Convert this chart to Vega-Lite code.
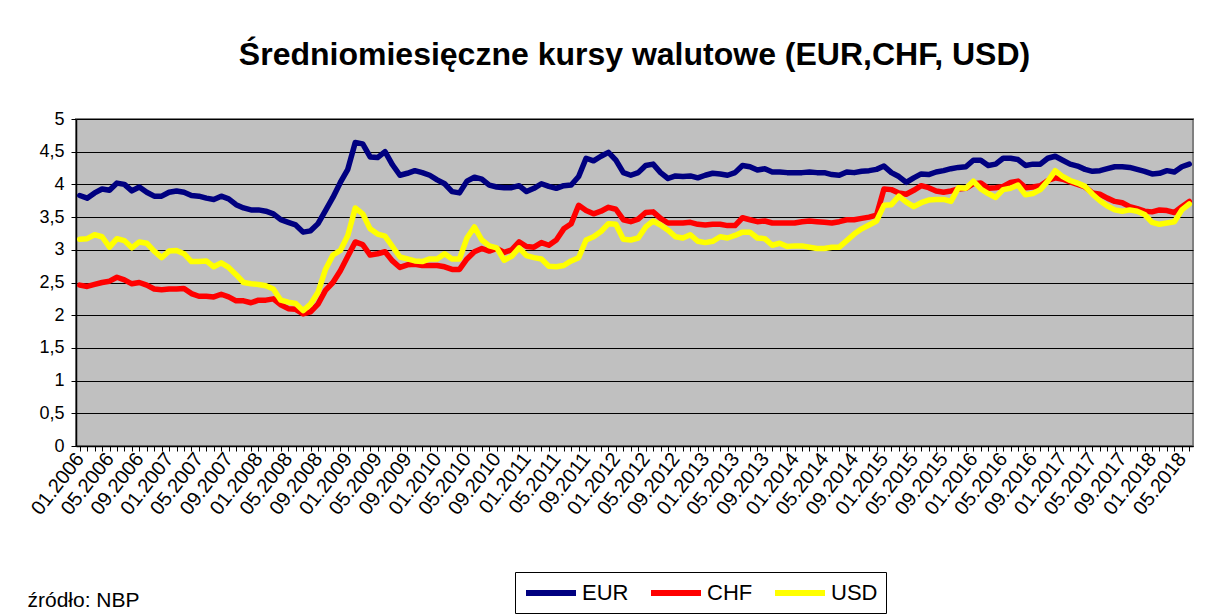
{
  "$schema": "https://vega.github.io/schema/vega-lite/v6.json",
  "width": 1117,
  "height": 327,
  "autosize": {"type": "none"},
  "padding": {"left": 76, "top": 119, "right": 16, "bottom": 168},
  "background": "white",
  "title": {
    "text": "Średniomiesięczne kursy walutowe (EUR,CHF, USD)",
    "font": "Liberation Sans",
    "fontSize": 32,
    "fontWeight": "bold",
    "color": "black",
    "anchor": "middle",
    "offset": 38
  },
  "config": {
    "view": {"fill": "#C0C0C0", "stroke": "#808080", "strokeWidth": 2},
    "font": "Liberation Sans"
  },
  "data": {
    "values": [
      {"m":"2006-01","EUR":3.83,"CHF":2.46,"USD":3.16},
      {"m":"2006-02","EUR":3.79,"CHF":2.44,"USD":3.17},
      {"m":"2006-03","EUR":3.87,"CHF":2.47,"USD":3.23},
      {"m":"2006-04","EUR":3.93,"CHF":2.50,"USD":3.20},
      {"m":"2006-05","EUR":3.91,"CHF":2.52,"USD":3.04},
      {"m":"2006-06","EUR":4.02,"CHF":2.58,"USD":3.17},
      {"m":"2006-07","EUR":4.00,"CHF":2.54,"USD":3.14},
      {"m":"2006-08","EUR":3.90,"CHF":2.48,"USD":3.03},
      {"m":"2006-09","EUR":3.96,"CHF":2.50,"USD":3.12},
      {"m":"2006-10","EUR":3.88,"CHF":2.46,"USD":3.10},
      {"m":"2006-11","EUR":3.82,"CHF":2.40,"USD":2.98},
      {"m":"2006-12","EUR":3.82,"CHF":2.39,"USD":2.88},
      {"m":"2007-01","EUR":3.88,"CHF":2.40,"USD":2.98},
      {"m":"2007-02","EUR":3.90,"CHF":2.40,"USD":2.99},
      {"m":"2007-03","EUR":3.88,"CHF":2.41,"USD":2.94},
      {"m":"2007-04","EUR":3.83,"CHF":2.33,"USD":2.82},
      {"m":"2007-05","EUR":3.82,"CHF":2.29,"USD":2.82},
      {"m":"2007-06","EUR":3.79,"CHF":2.29,"USD":2.83},
      {"m":"2007-07","EUR":3.77,"CHF":2.28,"USD":2.74},
      {"m":"2007-08","EUR":3.82,"CHF":2.32,"USD":2.80},
      {"m":"2007-09","EUR":3.78,"CHF":2.28,"USD":2.73},
      {"m":"2007-10","EUR":3.69,"CHF":2.22,"USD":2.62},
      {"m":"2007-11","EUR":3.64,"CHF":2.22,"USD":2.50},
      {"m":"2007-12","EUR":3.61,"CHF":2.19,"USD":2.48},
      {"m":"2008-01","EUR":3.61,"CHF":2.23,"USD":2.47},
      {"m":"2008-02","EUR":3.59,"CHF":2.23,"USD":2.45},
      {"m":"2008-03","EUR":3.55,"CHF":2.25,"USD":2.40},
      {"m":"2008-04","EUR":3.46,"CHF":2.16,"USD":2.23},
      {"m":"2008-05","EUR":3.42,"CHF":2.10,"USD":2.20},
      {"m":"2008-06","EUR":3.38,"CHF":2.09,"USD":2.18},
      {"m":"2008-07","EUR":3.27,"CHF":2.02,"USD":2.07},
      {"m":"2008-08","EUR":3.29,"CHF":2.05,"USD":2.17},
      {"m":"2008-09","EUR":3.40,"CHF":2.17,"USD":2.35},
      {"m":"2008-10","EUR":3.60,"CHF":2.38,"USD":2.70},
      {"m":"2008-11","EUR":3.80,"CHF":2.50,"USD":2.92},
      {"m":"2008-12","EUR":4.03,"CHF":2.68,"USD":2.99},
      {"m":"2009-01","EUR":4.23,"CHF":2.90,"USD":3.22},
      {"m":"2009-02","EUR":4.64,"CHF":3.12,"USD":3.64},
      {"m":"2009-03","EUR":4.62,"CHF":3.08,"USD":3.55},
      {"m":"2009-04","EUR":4.42,"CHF":2.92,"USD":3.32},
      {"m":"2009-05","EUR":4.41,"CHF":2.94,"USD":3.24},
      {"m":"2009-06","EUR":4.50,"CHF":2.97,"USD":3.21},
      {"m":"2009-07","EUR":4.30,"CHF":2.83,"USD":3.05},
      {"m":"2009-08","EUR":4.14,"CHF":2.73,"USD":2.89},
      {"m":"2009-09","EUR":4.17,"CHF":2.77,"USD":2.86},
      {"m":"2009-10","EUR":4.21,"CHF":2.78,"USD":2.83},
      {"m":"2009-11","EUR":4.18,"CHF":2.76,"USD":2.82},
      {"m":"2009-12","EUR":4.14,"CHF":2.76,"USD":2.86},
      {"m":"2010-01","EUR":4.07,"CHF":2.76,"USD":2.86},
      {"m":"2010-02","EUR":4.01,"CHF":2.74,"USD":2.94},
      {"m":"2010-03","EUR":3.89,"CHF":2.70,"USD":2.86},
      {"m":"2010-04","EUR":3.87,"CHF":2.70,"USD":2.86},
      {"m":"2010-05","EUR":4.05,"CHF":2.86,"USD":3.18},
      {"m":"2010-06","EUR":4.11,"CHF":2.97,"USD":3.35},
      {"m":"2010-07","EUR":4.08,"CHF":3.02,"USD":3.15},
      {"m":"2010-08","EUR":3.99,"CHF":2.98,"USD":3.06},
      {"m":"2010-09","EUR":3.96,"CHF":3.02,"USD":3.03},
      {"m":"2010-10","EUR":3.95,"CHF":2.96,"USD":2.84},
      {"m":"2010-11","EUR":3.95,"CHF":3.00,"USD":2.90},
      {"m":"2010-12","EUR":3.98,"CHF":3.12,"USD":3.03},
      {"m":"2011-01","EUR":3.89,"CHF":3.05,"USD":2.91},
      {"m":"2011-02","EUR":3.94,"CHF":3.04,"USD":2.88},
      {"m":"2011-03","EUR":4.01,"CHF":3.11,"USD":2.86},
      {"m":"2011-04","EUR":3.97,"CHF":3.07,"USD":2.75},
      {"m":"2011-05","EUR":3.94,"CHF":3.15,"USD":2.74},
      {"m":"2011-06","EUR":3.98,"CHF":3.32,"USD":2.76},
      {"m":"2011-07","EUR":3.99,"CHF":3.40,"USD":2.83},
      {"m":"2011-08","EUR":4.12,"CHF":3.68,"USD":2.88},
      {"m":"2011-09","EUR":4.40,"CHF":3.60,"USD":3.15},
      {"m":"2011-10","EUR":4.36,"CHF":3.55,"USD":3.20},
      {"m":"2011-11","EUR":4.43,"CHF":3.59,"USD":3.28},
      {"m":"2011-12","EUR":4.49,"CHF":3.65,"USD":3.40},
      {"m":"2012-01","EUR":4.37,"CHF":3.62,"USD":3.39},
      {"m":"2012-02","EUR":4.18,"CHF":3.46,"USD":3.16},
      {"m":"2012-03","EUR":4.14,"CHF":3.43,"USD":3.15},
      {"m":"2012-04","EUR":4.18,"CHF":3.47,"USD":3.18},
      {"m":"2012-05","EUR":4.29,"CHF":3.57,"USD":3.35},
      {"m":"2012-06","EUR":4.31,"CHF":3.58,"USD":3.44},
      {"m":"2012-07","EUR":4.18,"CHF":3.48,"USD":3.38},
      {"m":"2012-08","EUR":4.09,"CHF":3.41,"USD":3.30},
      {"m":"2012-09","EUR":4.13,"CHF":3.41,"USD":3.20},
      {"m":"2012-10","EUR":4.12,"CHF":3.41,"USD":3.18},
      {"m":"2012-11","EUR":4.13,"CHF":3.42,"USD":3.23},
      {"m":"2012-12","EUR":4.10,"CHF":3.39,"USD":3.13},
      {"m":"2013-01","EUR":4.14,"CHF":3.38,"USD":3.11},
      {"m":"2013-02","EUR":4.17,"CHF":3.39,"USD":3.13},
      {"m":"2013-03","EUR":4.16,"CHF":3.39,"USD":3.20},
      {"m":"2013-04","EUR":4.14,"CHF":3.37,"USD":3.18},
      {"m":"2013-05","EUR":4.18,"CHF":3.37,"USD":3.22},
      {"m":"2013-06","EUR":4.29,"CHF":3.49,"USD":3.27},
      {"m":"2013-07","EUR":4.27,"CHF":3.46,"USD":3.27},
      {"m":"2013-08","EUR":4.22,"CHF":3.43,"USD":3.18},
      {"m":"2013-09","EUR":4.24,"CHF":3.44,"USD":3.17},
      {"m":"2013-10","EUR":4.19,"CHF":3.41,"USD":3.07},
      {"m":"2013-11","EUR":4.19,"CHF":3.41,"USD":3.10},
      {"m":"2013-12","EUR":4.18,"CHF":3.41,"USD":3.05},
      {"m":"2014-01","EUR":4.18,"CHF":3.41,"USD":3.06},
      {"m":"2014-02","EUR":4.18,"CHF":3.43,"USD":3.06},
      {"m":"2014-03","EUR":4.19,"CHF":3.44,"USD":3.04},
      {"m":"2014-04","EUR":4.18,"CHF":3.43,"USD":3.02},
      {"m":"2014-05","EUR":4.18,"CHF":3.42,"USD":3.02},
      {"m":"2014-06","EUR":4.15,"CHF":3.41,"USD":3.04},
      {"m":"2014-07","EUR":4.14,"CHF":3.43,"USD":3.04},
      {"m":"2014-08","EUR":4.19,"CHF":3.46,"USD":3.14},
      {"m":"2014-09","EUR":4.18,"CHF":3.46,"USD":3.24},
      {"m":"2014-10","EUR":4.20,"CHF":3.48,"USD":3.32},
      {"m":"2014-11","EUR":4.21,"CHF":3.50,"USD":3.38},
      {"m":"2014-12","EUR":4.23,"CHF":3.53,"USD":3.44},
      {"m":"2015-01","EUR":4.28,"CHF":3.93,"USD":3.68},
      {"m":"2015-02","EUR":4.18,"CHF":3.92,"USD":3.69},
      {"m":"2015-03","EUR":4.12,"CHF":3.87,"USD":3.82},
      {"m":"2015-04","EUR":4.03,"CHF":3.85,"USD":3.73},
      {"m":"2015-05","EUR":4.10,"CHF":3.91,"USD":3.66},
      {"m":"2015-06","EUR":4.16,"CHF":3.98,"USD":3.72},
      {"m":"2015-07","EUR":4.15,"CHF":3.95,"USD":3.76},
      {"m":"2015-08","EUR":4.19,"CHF":3.90,"USD":3.77},
      {"m":"2015-09","EUR":4.21,"CHF":3.88,"USD":3.77},
      {"m":"2015-10","EUR":4.24,"CHF":3.90,"USD":3.74},
      {"m":"2015-11","EUR":4.26,"CHF":3.93,"USD":3.95},
      {"m":"2015-12","EUR":4.27,"CHF":3.94,"USD":3.94},
      {"m":"2016-01","EUR":4.37,"CHF":4.01,"USD":4.05},
      {"m":"2016-02","EUR":4.37,"CHF":4.02,"USD":3.93},
      {"m":"2016-03","EUR":4.29,"CHF":3.94,"USD":3.86},
      {"m":"2016-04","EUR":4.31,"CHF":3.95,"USD":3.80},
      {"m":"2016-05","EUR":4.40,"CHF":3.97,"USD":3.92},
      {"m":"2016-06","EUR":4.40,"CHF":4.03,"USD":3.94},
      {"m":"2016-07","EUR":4.38,"CHF":4.05,"USD":3.99},
      {"m":"2016-08","EUR":4.29,"CHF":3.95,"USD":3.84},
      {"m":"2016-09","EUR":4.31,"CHF":3.96,"USD":3.86},
      {"m":"2016-10","EUR":4.31,"CHF":3.98,"USD":3.92},
      {"m":"2016-11","EUR":4.40,"CHF":4.06,"USD":4.05},
      {"m":"2016-12","EUR":4.43,"CHF":4.10,"USD":4.21},
      {"m":"2017-01","EUR":4.37,"CHF":4.08,"USD":4.12},
      {"m":"2017-02","EUR":4.31,"CHF":4.04,"USD":4.06},
      {"m":"2017-03","EUR":4.28,"CHF":4.00,"USD":4.02},
      {"m":"2017-04","EUR":4.23,"CHF":3.96,"USD":3.97},
      {"m":"2017-05","EUR":4.20,"CHF":3.87,"USD":3.85},
      {"m":"2017-06","EUR":4.21,"CHF":3.85,"USD":3.75},
      {"m":"2017-07","EUR":4.24,"CHF":3.79,"USD":3.67},
      {"m":"2017-08","EUR":4.27,"CHF":3.74,"USD":3.61},
      {"m":"2017-09","EUR":4.27,"CHF":3.72,"USD":3.59},
      {"m":"2017-10","EUR":4.26,"CHF":3.66,"USD":3.61},
      {"m":"2017-11","EUR":4.23,"CHF":3.63,"USD":3.59},
      {"m":"2017-12","EUR":4.20,"CHF":3.59,"USD":3.54},
      {"m":"2018-01","EUR":4.16,"CHF":3.58,"USD":3.42},
      {"m":"2018-02","EUR":4.17,"CHF":3.61,"USD":3.39},
      {"m":"2018-03","EUR":4.21,"CHF":3.60,"USD":3.41},
      {"m":"2018-04","EUR":4.19,"CHF":3.57,"USD":3.43},
      {"m":"2018-05","EUR":4.27,"CHF":3.66,"USD":3.61},
      {"m":"2018-06","EUR":4.31,"CHF":3.74,"USD":3.70}
    ]
  },
  "transform": [
    {"fold": ["EUR", "CHF", "USD"], "as": ["waluta", "kurs"]}
  ],
  "mark": {"type": "line", "strokeWidth": 5.5, "strokeJoin": "round", "strokeCap": "round"},
  "encoding": {
    "x": {
      "field": "m",
      "type": "ordinal",
      "scale": {"type": "point", "padding": 0.5},
      "axis": {
        "title": "źródło: NBP",
        "titleFont": "Liberation Sans",
        "titleFontSize": 21,
        "titleFontWeight": "normal",
        "titleColor": "black",
        "titleAlign": "left",
        "titleBaseline": "alphabetic",
        "titleX": -49,
        "titleY": 160,
        "titleAngle": 0,
        "labelExpr": "indexof(['01','05','09'], slice(datum.value,5,7)) >= 0 ? slice(datum.value,5,7) + '.' + slice(datum.value,0,4) : ''",
        "labelAngle": -52,
        "labelAlign": "right",
        "labelBaseline": "middle",
        "labelFont": "Liberation Sans",
        "labelFontSize": 20,
        "labelColor": "black",
        "labelOverlap": false,
        "labelPadding": 4,
        "labelBound": false,
        "labelFlush": false,
        "domainColor": "black",
        "domainWidth": 1.5,
        "tickColor": "black",
        "tickSize": 5,
        "grid": false
      }
    },
    "y": {
      "field": "kurs",
      "type": "quantitative",
      "scale": {"domain": [0, 5], "nice": false, "zero": true},
      "axis": {
        "title": null,
        "values": [0, 0.5, 1, 1.5, 2, 2.5, 3, 3.5, 4, 4.5, 5],
        "labelExpr": "replace(toString(datum.value), '.', ',')",
        "labelFont": "Liberation Sans",
        "labelFontSize": 18,
        "labelColor": "black",
        "labelPadding": 7,
        "domainColor": "black",
        "domainWidth": 1.5,
        "tickColor": "black",
        "tickSize": 5,
        "grid": true,
        "gridColor": "black",
        "gridWidth": 1,
        "gridOpacity": 1
      }
    },
    "color": {
      "field": "waluta",
      "type": "nominal",
      "scale": {"domain": ["EUR", "CHF", "USD"], "range": ["#000080", "#FF0000", "#FFFF00"]},
      "legend": {
        "title": null,
        "orient": "none",
        "legendX": 439,
        "legendY": 453,
        "direction": "horizontal",
        "strokeColor": "black",
        "fillColor": "white",
        "padding": 8,
        "symbolType": "M-2.5,0H2.5",
        "symbolSize": 400,
        "symbolOffset": 15,
        "symbolStrokeWidth": 6,
        "labelFont": "Liberation Sans",
        "labelFontSize": 22,
        "labelColor": "black",
        "labelOffset": 18,
        "columnPadding": 10,
        "labelLimit": 200
      }
    }
  }
}
